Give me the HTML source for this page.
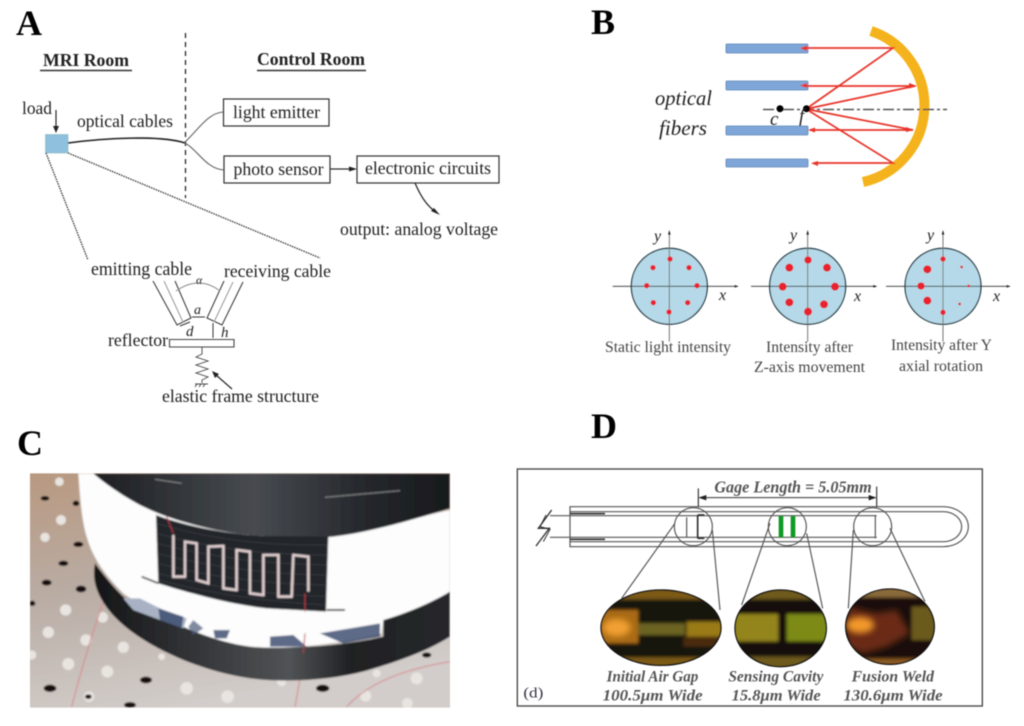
<!DOCTYPE html>
<html><head><meta charset="utf-8"><style>
html,body{margin:0;padding:0;background:#fff;width:1024px;height:726px;overflow:hidden}
svg{display:block}
text{font-family:"Liberation Serif",serif;fill:#222}
text.k{fill:#000}
</style></head><body>
<svg width="1024" height="726" viewBox="0 0 1024 726" xmlns="http://www.w3.org/2000/svg">
<defs>
<filter id="b" x="-5%" y="-5%" width="110%" height="110%"><feGaussianBlur stdDeviation="0.4"/></filter>
<filter id="b2" x="-5%" y="-5%" width="110%" height="110%"><feGaussianBlur stdDeviation="2.5"/></filter>
<filter id="b3" x="-20%" y="-20%" width="140%" height="140%"><feGaussianBlur stdDeviation="9"/></filter>
<filter id="b4" x="-5%" y="-5%" width="110%" height="110%"><feGaussianBlur stdDeviation="5"/></filter>
<linearGradient id="floor" x1="0" y1="0" x2="0.3" y2="1"><stop offset="0" stop-color="#b8987f"/><stop offset=".5" stop-color="#b9aca4"/><stop offset="1" stop-color="#d2cdca"/></linearGradient>
<linearGradient id="cyl" x1="0" y1="0" x2="1" y2="0"><stop offset="0" stop-color="#1c1e22"/><stop offset=".45" stop-color="#474b50"/><stop offset=".75" stop-color="#26292d"/><stop offset="1" stop-color="#17191c"/></linearGradient>
<linearGradient id="ring" x1="0" y1="0" x2="1" y2="0"><stop offset="0" stop-color="#141517"/><stop offset=".55" stop-color="#505355"/><stop offset=".72" stop-color="#1f2123"/><stop offset="1" stop-color="#26282a"/></linearGradient>
<clipPath id="pc"><rect x="90" y="160" width="1260" height="703"/></clipPath>
<clipPath id="e1"><ellipse cx="453" cy="503" rx="180" ry="113"/></clipPath>
<clipPath id="e2"><ellipse cx="812" cy="505" rx="137" ry="115"/></clipPath>
<clipPath id="e3"><ellipse cx="1140" cy="500" rx="133" ry="113"/></clipPath>
</defs>

<g filter="url(#b)">
<!-- Panel letters -->
<text x="16" y="35" font-size="36" font-weight="bold" class="k">A</text>
<text x="591" y="34" font-size="36" font-weight="bold" class="k">B</text>
<text x="17" y="455" font-size="36" font-weight="bold" class="k">C</text>
<text x="591" y="438" font-size="36" font-weight="bold" class="k">D</text>

<!-- Panel A -->
<line x1="185.500" y1="33" x2="185.500" y2="198" stroke="#222" stroke-width="1.300" stroke-dasharray="5 4"/>
<text x="43" y="66" font-size="17.500" font-weight="bold" textLength="86" lengthAdjust="spacingAndGlyphs">MRI Room</text>
<line x1="40" y1="70.500" x2="132" y2="70.500" stroke="#333" stroke-width="1.400"/>
<text x="257" y="65" font-size="17.500" font-weight="bold" textLength="108" lengthAdjust="spacingAndGlyphs">Control Room</text>
<line x1="257" y1="70.500" x2="366" y2="70.500" stroke="#333" stroke-width="1.400"/>
<text x="22" y="114" font-size="17.500" textLength="30" lengthAdjust="spacingAndGlyphs">load</text>
<line x1="56" y1="110" x2="56" y2="128" stroke="#222" stroke-width="1.200"/>
<path d="M53 126 L59 126 L56 133 Z" fill="#222"/>
<rect x="45.500" y="134.500" width="22.500" height="18.500" fill="#8fc1de" stroke="#7aa" stroke-width=".5"/>
<text x="77" y="127" font-size="17.500" textLength="96" lengthAdjust="spacingAndGlyphs">optical cables</text>
<path d="M68 143 C105 138 160 135 185 143" fill="none" stroke="#222" stroke-width="1.600"/>
<path d="M185 142 C198 130 208 113 223 112" fill="none" stroke="#666" stroke-width="1.100"/>
<path d="M185 143 C198 150 206 169 224 170" fill="none" stroke="#666" stroke-width="1.100"/>
<rect x="223.500" y="99" width="105.500" height="27" fill="none" stroke="#333" stroke-width="1.200"/>
<text x="233" y="118" font-size="17.700" textLength="87" lengthAdjust="spacingAndGlyphs">light emitter</text>
<rect x="224" y="156" width="106" height="27" fill="none" stroke="#333" stroke-width="1.200"/>
<text x="233.500" y="175" font-size="17.700" textLength="90" lengthAdjust="spacingAndGlyphs">photo sensor</text>
<rect x="357" y="156" width="142" height="27" fill="none" stroke="#333" stroke-width="1.200"/>
<text x="365" y="174" font-size="17.700" textLength="126" lengthAdjust="spacingAndGlyphs">electronic circuits</text>
<line x1="330" y1="169" x2="352" y2="169" stroke="#333" stroke-width="1.200"/>
<path d="M349 166.500 L357 169 L349 171.500 Z" fill="#222"/>
<path d="M415 183 C421 197 427 206 437 213" fill="none" stroke="#222" stroke-width="1.200"/>
<path d="M431 211 L440 215 L434 208 Z" fill="#222"/>
<text x="340" y="235" font-size="17.700" textLength="158" lengthAdjust="spacingAndGlyphs">output: analog voltage</text>
<line x1="46" y1="153" x2="88" y2="260" stroke="#333" stroke-width="1.300" stroke-dasharray="1.500 1"/>
<line x1="68" y1="153" x2="320" y2="258" stroke="#333" stroke-width="1.300" stroke-dasharray="1.500 1"/>
<text x="91" y="275" font-size="18.500" textLength="101" lengthAdjust="spacingAndGlyphs">emitting cable</text>
<text x="224" y="277" font-size="18" textLength="107" lengthAdjust="spacingAndGlyphs">receiving cable</text>
<g fill="none" stroke="#333" stroke-width="1">
<path d="M153 281 L177 325 L191 318 L175 281"/>
<path d="M243 282 L222 325 L207 318 L224 281"/>
<path d="M164 281 L183 322 M233 282 L214 322" stroke="#999"/>
<path d="M176 291 Q199 275 220 291" stroke="#888"/>
<path d="M192 317 L205 317 M213 323 L213 338 M180 326 L190 322"/>
<path d="M169.500 339.500 H234 V347 H169.500 Z" stroke="#444" stroke-width="1.100"/>
<path d="M202 347 V354 L196 357 L208 361 L196 365 L208 369 L196 373 L208 377 L202 380 V383 M195 384 H208 M197 384 l-2 3 M201 384 l-2 3 M205 384 l-2 3" stroke="#444" stroke-width=".9"/>
<path d="M232 389 L216 375" stroke="#222" stroke-width="1.200"/>
</g>
<path d="M212 371 L219 374 L215 378 Z" fill="#222"/>
<text x="196" y="284" font-size="12" font-style="italic">α</text>
<text x="194" y="314" font-size="14" font-style="italic">a</text>
<text x="186" y="336" font-size="15" font-style="italic">d</text>
<text x="221" y="337" font-size="15" font-style="italic">h</text>
<text x="108" y="346" font-size="18" textLength="60" lengthAdjust="spacingAndGlyphs">reflector</text>
<text x="162" y="402" font-size="17.700" textLength="157" lengthAdjust="spacingAndGlyphs">elastic frame structure</text>

<!-- Panel B -->
<g fill="#7ea6d8" stroke="#5f86b8" stroke-width=".8">
<rect x="726" y="44" width="82" height="9" rx="1"/>
<rect x="726" y="81" width="82" height="9" rx="1"/>
<rect x="726" y="126" width="82" height="9" rx="1"/>
<rect x="726" y="159" width="82" height="8" rx="1"/>
</g>
<path d="M871 31 A78.500 78.500 0 0 1 863 182" fill="none" stroke="#f4b31a" stroke-width="10"/>
<line x1="763" y1="109.500" x2="947" y2="109.500" stroke="#555" stroke-width="1.500" stroke-dasharray="11 3 3 3"/>
<g fill="none" stroke="#e8352c" stroke-width="1.700">
<path d="M806 109 L893 48 H803 M806 109 L915 86 H803 M806 109 L913 130 H810 M806 109 L893 163 H814"/>
</g>
<g fill="#e8352c">
<path d="M800 48.300 L807 45.500 V51 Z M800 85.500 L807 83 V88 Z M808 130 L815 127.500 V132.500 Z M811 163.300 L818 161 V166 Z M917 86 L909 83 L909 88.500 Z M914 130 L906 127 V132 Z"/>
</g>
<circle cx="780" cy="108.700" r="3.500" fill="#000"/>
<circle cx="806.500" cy="108.700" r="3.500" fill="#000"/>
<text x="770" y="125" font-size="19" font-style="italic">c</text>
<text x="799" y="122" font-size="19" font-style="italic">f</text>
<text x="655" y="105" font-size="21" font-style="italic" textLength="57" lengthAdjust="spacingAndGlyphs">optical</text>
<text x="659" y="135" font-size="21" font-style="italic" textLength="48" lengthAdjust="spacingAndGlyphs">fibers</text>

<g transform="translate(590 210) scale(.33333)">
<g fill="#b5d9e8" stroke="#223a44" stroke-width="4">
<circle cx="238" cy="229" r="114"/><circle cx="653" cy="229" r="114"/><circle cx="1059" cy="229" r="114"/>
</g>
<g stroke="#333" stroke-width="2.500" fill="none">
<path d="M68 229H438M483 229H855M888 229H1253"/>
</g>
<g stroke="#777" stroke-width="3" fill="none">
<path d="M238 70V395M653 70V395M1059 70V395"/>
</g>
<g fill="#222">
<path d="M446 229l-12-4v8zM862 229l-12-4v8zM1262 229l-12-4v8zM238 60l-4 14h8zM653 60l-4 14h8zM1059 60l-4 14h8z"/>
</g>
<g fill="#e8232d">
<circle cx="240" cy="147" r="8"/><circle cx="189" cy="173" r="8"/><circle cx="297" cy="173" r="8"/><circle cx="170" cy="227" r="8"/><circle cx="321" cy="227" r="8"/><circle cx="190" cy="278" r="8"/><circle cx="293" cy="278" r="8"/><circle cx="237" cy="306" r="8"/>
<circle cx="654" cy="150" r="11"/><circle cx="598" cy="173" r="12"/><circle cx="711" cy="173" r="12"/><circle cx="578" cy="230" r="12"/><circle cx="735" cy="230" r="12"/><circle cx="598" cy="277" r="12"/><circle cx="702" cy="283" r="12"/><circle cx="654" cy="305" r="12"/>
<circle cx="1059" cy="147" r="8"/><circle cx="1012" cy="178" r="12"/><circle cx="1115" cy="171" r="4"/><circle cx="993" cy="228" r="11"/><circle cx="1136" cy="228" r="4"/><circle cx="1012" cy="272" r="12"/><circle cx="1109" cy="282" r="4"/><circle cx="1059" cy="307" r="8"/>
</g>
</g>
<g font-style="italic" font-size="16">
<text x="654" y="241">y</text><text x="719" y="300">x</text>
<text x="790" y="240">y</text><text x="854" y="301">x</text>
<text x="927" y="240">y</text><text x="993" y="301">x</text>
</g>
<g font-size="15.500">
<text x="605" y="352" textLength="126" lengthAdjust="spacingAndGlyphs" style="fill:#444">Static light intensity</text>
<text x="766" y="352" textLength="87" lengthAdjust="spacingAndGlyphs" style="fill:#444">Intensity after</text>
<text x="754" y="372" textLength="111" lengthAdjust="spacingAndGlyphs" style="fill:#444">Z-axis movement</text>
<text x="891" y="350" textLength="101" lengthAdjust="spacingAndGlyphs" style="fill:#444">Intensity after Y</text>
<text x="899" y="371" textLength="84" lengthAdjust="spacingAndGlyphs" style="fill:#444">axial rotation</text>
</g>

<!-- Panel C -->
<g transform="translate(0 420) scale(.33333)" clip-path="url(#pc)">
<g filter="url(#b2)">
<rect x="80" y="150" width="1280" height="723" fill="url(#floor)"/>
<g fill="#e8e4e0">
<circle cx="178" cy="185" r="13"/><circle cx="183" cy="300" r="15"/><circle cx="135" cy="352" r="14"/><circle cx="197" cy="570" r="17"/><circle cx="308" cy="592" r="16"/><circle cx="145" cy="637" r="17"/><circle cx="258" cy="660" r="17"/><circle cx="370" cy="682" r="17"/><circle cx="205" cy="732" r="18"/><circle cx="322" cy="755" r="18"/><circle cx="95" cy="705" r="14"/><circle cx="485" cy="710" r="10"/><circle cx="560" cy="805" r="19"/><circle cx="683" cy="830" r="19"/><circle cx="1097" cy="828" r="17"/><circle cx="1222" cy="850" r="16"/><circle cx="1250" cy="775" r="18"/><circle cx="267" cy="830" r="16"/><circle cx="845" cy="785" r="14"/><circle cx="1130" cy="760" r="12"/>
</g>
<g fill="#14110f">
<ellipse cx="135" cy="235" rx="13" ry="7"/><ellipse cx="235" cy="373" rx="15" ry="8"/><ellipse cx="190" cy="430" rx="15" ry="8"/><ellipse cx="140" cy="488" rx="15" ry="9"/><ellipse cx="243" cy="507" rx="16" ry="10"/><ellipse cx="97" cy="550" rx="9" ry="8"/><ellipse cx="150" cy="805" rx="19" ry="11"/><ellipse cx="438" cy="780" rx="18" ry="10"/><ellipse cx="390" cy="855" rx="18" ry="9"/><ellipse cx="968" cy="805" rx="20" ry="11"/><ellipse cx="1280" cy="705" rx="14" ry="8"/><ellipse cx="228" cy="250" rx="10" ry="8"/><ellipse cx="265" cy="830" rx="10" ry="7"/>
</g>
<path d="M330 490 Q270 650 215 860 M915 640 Q905 760 885 860 M1040 860 Q1130 760 1350 725" fill="none" stroke="#d58a8f" stroke-width="3.500"/>
<!-- lower ring -->
<path d="M285 430 C275 480 290 525 330 575 C400 660 560 740 720 770 C820 790 980 785 1100 752 C1190 725 1280 695 1350 650 V510 C1290 550 1220 580 1150 600 V650 C1050 672 950 682 850 682 C700 680 520 615 420 565 C380 545 345 510 285 430 Z" fill="url(#ring)"/>
<!-- white band -->
<path d="M235 160 C240 230 245 300 260 350 C280 420 320 470 370 520 C440 570 600 660 750 680 C850 690 1000 675 1145 640 L1150 600 C1220 580 1290 550 1350 515 V270 L1000 350 L800 340 L600 310 L430 260 L280 160 Z" fill="#fdfdfd"/>
<path d="M370 535 L420 535 L480 565 L560 595 L550 625 L480 600 L400 570 Z" fill="#a8b2c4"/>
<path d="M475 565 L550 590 L545 625 L480 600 Z M640 630 L690 630 L680 655 L645 655 Z M810 650 L880 645 L920 680 L810 680 Z M960 640 L1140 610 L1140 650 L1030 670 Z" fill="#34466a" opacity=".8"/>
<path d="M580 600 L610 625 L580 645 L565 620 Z" fill="#4a5a7a" opacity=".7"/>
<!-- upper cylinder -->
<path d="M280 160 C320 195 380 235 430 260 C520 305 680 345 800 348 C880 352 950 355 1000 350 C1120 335 1250 295 1350 265 V160 Z" fill="url(#cyl)"/>
<path d="M975 232 L1200 212 M465 178 L545 190" stroke="#aeb0b0" stroke-width="2" fill="none"/>
<path d="M468 285 C560 320 700 345 800 348 L985 350 L978 575 L800 565 C700 555 570 520 475 490 Z" fill="#24262b"/>
<g stroke="#3c3e44" stroke-width="3" fill="none" opacity=".8">
<path d="M470 310 Q700 380 982 375M470 340 Q700 405 982 405M472 370 Q700 430 982 435M472 400 Q700 460 980 465M474 430 Q700 490 980 495M474 460 Q700 520 980 530M476 480 Q700 540 978 555"/>
</g>
<path d="M520 345 L520 470 L555 470 L555 365 L590 370 L590 480 L625 490 L625 380 L670 378 L670 505 L710 510 L710 390 L750 395 L750 520 L790 525 L790 405 L835 405 L835 530 L875 530 L880 405 L925 410 L925 515" fill="none" stroke="#e6d4d6" stroke-width="7"/>
<path d="M915 520 L915 575 M915 640 L910 700 M500 290 L520 340" fill="none" stroke="#b83a45" stroke-width="3"/>
<path d="M425 470 L475 490 M980 570 L1035 570" stroke="#333" stroke-width="5" fill="none"/>
</g>
</g>

<!-- Panel D -->
<g transform="translate(510 460) scale(.33333)">
<rect x="22" y="27" width="1395" height="711" fill="none" stroke="#444" stroke-width="4"/>
<g fill="none" stroke="#555" stroke-width="3.500">
<path d="M180 140 H1300 A75 60 0 0 1 1300 260 H180 Z"/>
<path d="M180 155 H1300 A55 45 0 0 1 1300 245 H180"/>
<path d="M120 167 H1100 M120 232 H1100"/>
<circle cx="550" cy="200" r="57"/><circle cx="832" cy="200" r="57"/><circle cx="1088" cy="200" r="57"/>
<path d="M530 172 V232 M1096 165 V235"/>
<path d="M495 190 L335 415 M607 210 L630 450 M780 190 L695 435 M890 220 L938 445 M1030 210 L1015 445 M1140 205 L1245 425"/>
</g>
<path d="M180 161 H285 M180 238 H285 M563 165 V235 M563 165 H583 M563 235 H583" fill="none" stroke="#333" stroke-width="5"/>
<path d="M125 150 L85 205 L118 205 L78 258" fill="none" stroke="#333" stroke-width="4"/>
<path d="M108 165 L90 200 L120 208 L100 245" fill="none" stroke="#333" stroke-width="3"/>
<rect x="806" y="168" width="14" height="64" fill="#0e9a26"/><rect x="842" y="168" width="14" height="64" fill="#0e9a26"/>
<path d="M565 85 V140 M1100 80 V140" stroke="#333" stroke-width="3.500" fill="none"/>
<path d="M570 113 H1095" stroke="#333" stroke-width="3" fill="none"/>
<path d="M565 113 l24 -8 v16 z M1100 113 l-24 -8 v16 z" fill="#222"/>
<text x="613" y="98" font-size="50" font-style="italic" font-weight="bold" textLength="472" lengthAdjust="spacingAndGlyphs" style="fill:#555">Gage Length = 5.05mm</text>

<g clip-path="url(#e1)"><g filter="url(#b4)">
<rect x="260" y="375" width="390" height="255" fill="#17130a"/>
<rect x="260" y="380" width="390" height="38" fill="#7c5a18"/>
<rect x="260" y="592" width="390" height="38" fill="#7c5a18"/>
<rect x="260" y="450" width="125" height="100" fill="#a86a14"/>
<rect x="385" y="490" width="140" height="35" fill="#6c6320"/>
<rect x="530" y="485" width="110" height="45" fill="#9a7a14"/>
<rect x="520" y="530" width="120" height="30" fill="#4a2c10"/>
<ellipse cx="320" cy="503" rx="42" ry="26" fill="#f2a030" filter="url(#b3)"/>
</g></g>
<ellipse cx="453" cy="503" rx="180" ry="113" fill="none" stroke="#111" stroke-width="4"/>
<g clip-path="url(#e2)"><g filter="url(#b4)">
<rect x="660" y="375" width="310" height="260" fill="#14110a"/>
<rect x="660" y="378" width="310" height="40" fill="#6e5a1c"/>
<rect x="660" y="590" width="310" height="42" fill="#6e5a1c"/>
<rect x="670" y="462" width="135" height="82" fill="#93851a"/>
<rect x="830" y="462" width="130" height="82" fill="#7d8a14"/>
</g></g>
<ellipse cx="812" cy="505" rx="137" ry="115" fill="none" stroke="#111" stroke-width="4"/>
<g clip-path="url(#e3)"><g filter="url(#b4)">
<rect x="990" y="375" width="300" height="250" fill="#1a0f0a"/>
<rect x="990" y="380" width="300" height="32" fill="#8a6a3a"/>
<rect x="990" y="596" width="300" height="30" fill="#8a5a22"/>
<path d="M1010 440 L1100 460 L1160 450 L1200 520 L1130 560 L1060 580 L1010 560 Z" fill="#6a2c18" filter="url(#b3)"/>
<rect x="1205" y="440" width="80" height="100" fill="#6b5a1c"/>
<ellipse cx="1050" cy="495" rx="42" ry="24" fill="#f39a2a" filter="url(#b3)"/>
</g></g>
<ellipse cx="1140" cy="500" rx="133" ry="113" fill="none" stroke="#111" stroke-width="4"/>

<g font-size="46" font-style="italic" font-weight="bold">
<text x="290" y="665" textLength="275" lengthAdjust="spacingAndGlyphs" style="fill:#555">Initial Air Gap</text>
<text x="278" y="722" textLength="300" lengthAdjust="spacingAndGlyphs" style="fill:#555">100.5μm Wide</text>
<text x="655" y="665" textLength="285" lengthAdjust="spacingAndGlyphs" style="fill:#555">Sensing Cavity</text>
<text x="665" y="722" textLength="267" lengthAdjust="spacingAndGlyphs" style="fill:#555">15.8μm Wide</text>
<text x="1025" y="665" textLength="247" lengthAdjust="spacingAndGlyphs" style="fill:#555">Fusion Weld</text>
<text x="1000" y="722" textLength="298" lengthAdjust="spacingAndGlyphs" style="fill:#555">130.6μm Wide</text>
</g>
<text x="40" y="712" font-size="44" textLength="60" lengthAdjust="spacingAndGlyphs" style="fill:#334">(d)</text>
</g>
</g>
</svg>
</body></html>
